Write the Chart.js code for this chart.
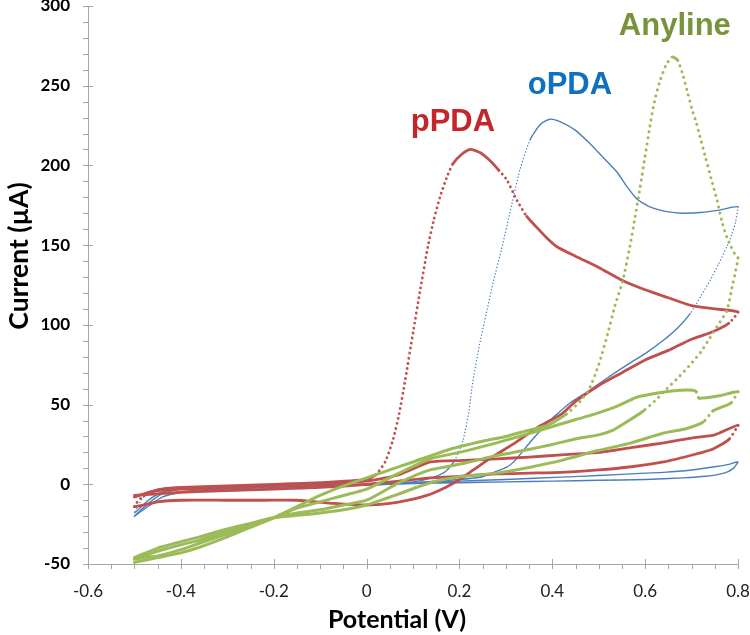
<!DOCTYPE html>
<html>
<head>
<meta charset="utf-8">
<script src="https://cdn.jsdelivr.net/npm/chart.js@4.4.1/dist/chart.umd.min.js"></script>
<style>
    body { margin: 0; background: #fff; }
</style>
</head>
<body>
<canvas id="cv" width="750" height="635"></canvas>
<script>
// [potential (V), current (uA)] in scan order
const ppda = [
    // cycle 1, forward
    [-0.50, -8], [-0.47, -5], [-0.44, -3], [-0.40, -2], [-0.30, -1], [-0.20, 0], [-0.10, 1], [0.00, 3],
    [0.02, 6], [0.04, 14], [0.057, 28], [0.07, 44], [0.083, 65], [0.10, 95], [0.115, 121], [0.132, 149],
    [0.145, 166], [0.158, 180], [0.172, 192], [0.186, 201], [0.205, 207], [0.223, 210], [0.245, 208],
    [0.266, 203], [0.285, 197], [0.302, 191], [0.324, 178], [0.345, 168], [0.367, 161], [0.39, 154],
    [0.41, 149], [0.45, 143], [0.50, 136], [0.55, 128], [0.60, 122], [0.65, 117], [0.70, 112], [0.75, 110],
    [0.80, 108],
    // cycle 1, reverse
    [0.78, 101], [0.74, 95], [0.70, 91], [0.65, 84], [0.60, 78], [0.55, 70], [0.50, 62], [0.45, 52],
    [0.42, 44], [0.37, 36], [0.32, 26], [0.27, 17], [0.23, 9], [0.20, 3], [0.17, -2], [0.13, -7],
    [0.09, -10], [0.05, -12], [0.00, -13], [-0.07, -12], [-0.15, -10], [-0.22, -10], [-0.30, -10],
    [-0.40, -10], [-0.45, -11], [-0.50, -14],
    // cycle 2, forward
    [-0.48, -7], [-0.45, -4], [-0.40, -3], [-0.30, -2], [-0.20, -1], [-0.10, 0], [0.00, 2], [0.07, 6],
    [0.137, 14], [0.21, 15], [0.28, 16], [0.35, 17], [0.42, 18.5], [0.50, 20], [0.57, 23], [0.64, 26],
    [0.70, 29], [0.75, 31], [0.80, 37],
    // cycle 2, reverse
    [0.78, 28], [0.745, 22], [0.71, 19], [0.64, 14], [0.57, 11], [0.50, 9], [0.42, 7.5], [0.35, 7],
    [0.28, 6.5], [0.20, 5], [0.137, 4], [0.07, 2], [0.00, 0], [-0.10, -2], [-0.20, -3], [-0.30, -4],
    [-0.40, -5], [-0.45, -6], [-0.50, -7],
];

const opda = [
    // cycle 1, forward
    [-0.50, -20], [-0.47, -12], [-0.44, -6], [-0.40, -3], [-0.35, -2], [-0.30, -1.5], [-0.20, -1],
    [-0.10, -0.5], [0.00, 0], [0.05, 0.5], [0.10, 1.5], [0.14, 4], [0.17, 8], [0.19, 15], [0.208, 28],
    [0.22, 45], [0.229, 65], [0.245, 90], [0.26, 110], [0.272, 126], [0.291, 148], [0.31, 172],
    [0.33, 197], [0.352, 216], [0.375, 226], [0.395, 229], [0.42, 227], [0.45, 222], [0.48, 214],
    [0.503, 207], [0.539, 196], [0.56, 187], [0.582, 179], [0.61, 174], [0.647, 171], [0.68, 170],
    [0.72, 170.5], [0.76, 172], [0.80, 174],
    // cycle 1, reverse
    [0.795, 165], [0.787, 157], [0.776, 149], [0.758, 138], [0.74, 128], [0.72, 118], [0.697, 107],
    [0.67, 98], [0.638, 90], [0.60, 82], [0.567, 76], [0.52, 67], [0.481, 59], [0.438, 51], [0.41, 44],
    [0.388, 38], [0.36, 29], [0.337, 21], [0.32, 15], [0.302, 10.7], [0.27, 7], [0.244, 4.4], [0.20, 3],
    [0.10, 1], [0.00, -0.5], [-0.10, -1], [-0.20, -1.5], [-0.30, -2], [-0.40, -2.5], [-0.45, -3],
    [-0.48, -8], [-0.50, -18],
    // cycle 2, forward
    [-0.47, -10], [-0.44, -5], [-0.40, -3], [-0.30, -2], [-0.20, -1.5], [-0.10, -1], [0.00, 0], [0.10, 1],
    [0.20, 2], [0.30, 3], [0.42, 4.5], [0.50, 5.5], [0.60, 7], [0.64, 7.5], [0.70, 9], [0.75, 11],
    [0.78, 12.5], [0.80, 14],
    // cycle 2, reverse
    [0.79, 10], [0.77, 7], [0.73, 5], [0.68, 4], [0.60, 3], [0.50, 2.5], [0.40, 2], [0.30, 1.5], [0.20, 1],
    [0.10, 0.5], [0.00, -0.5], [-0.10, -1], [-0.20, -2], [-0.30, -3], [-0.38, -4], [-0.44, -8], [-0.50, -20],
];

const anyline = [
    // cycle 1, forward
    [-0.50, -49], [-0.45, -46], [-0.40, -43], [-0.36, -39.5], [-0.30, -33], [-0.25, -27], [-0.20, -21],
    [-0.15, -14], [-0.10, -7], [-0.05, -1], [0.00, 4], [0.05, 9], [0.10, 14], [0.18, 22], [0.25, 27],
    [0.30, 30], [0.35, 34], [0.39, 37], [0.43, 44], [0.46, 52], [0.48, 60], [0.50, 75], [0.52, 95],
    [0.535, 112], [0.552, 128], [0.567, 149], [0.578, 167], [0.589, 186], [0.60, 206], [0.61, 224],
    [0.62, 240], [0.632, 253], [0.645, 263], [0.658, 268], [0.67, 266], [0.682, 256], [0.692, 245],
    [0.70, 236], [0.71, 227], [0.718, 218], [0.73, 205], [0.742, 192], [0.755, 178], [0.766, 164],
    [0.776, 155], [0.785, 149], [0.792, 145], [0.80, 142],
    // cycle 1, reverse
    [0.795, 134], [0.789, 126], [0.776, 109], [0.755, 99], [0.74, 92], [0.72, 83], [0.697, 75],
    [0.675, 68], [0.647, 60], [0.62, 52], [0.596, 46], [0.565, 40], [0.531, 34], [0.50, 31], [0.46, 29],
    [0.40, 25], [0.352, 22], [0.28, 18], [0.208, 13], [0.137, 9], [0.07, 1], [0.00, -10], [-0.05, -13],
    [-0.10, -16], [-0.15, -18], [-0.20, -21], [-0.25, -25], [-0.30, -29.5], [-0.36, -35], [-0.40, -38],
    [-0.45, -42], [-0.50, -47],
    // cycle 2, forward
    [-0.48, -46], [-0.45, -45], [-0.40, -41], [-0.36, -37], [-0.30, -31], [-0.25, -26], [-0.20, -21],
    [-0.15, -15], [-0.10, -11], [-0.05, -7], [0.00, -3], [0.07, 7], [0.137, 16], [0.20, 20], [0.28, 26],
    [0.352, 32], [0.42, 38], [0.496, 44.5], [0.54, 49], [0.582, 54.6], [0.638, 57.7], [0.675, 59],
    [0.703, 59], [0.71, 58], [0.716, 54], [0.76, 55.5], [0.80, 58],
    // cycle 2, reverse
    [0.785, 51], [0.77, 49], [0.746, 46], [0.725, 39], [0.69, 35], [0.638, 32], [0.57, 26], [0.496, 21],
    [0.42, 15], [0.352, 10.7], [0.28, 7], [0.208, 5], [0.137, 1], [0.07, -6], [0.00, -13], [-0.05, -16],
    [-0.10, -18], [-0.15, -19.5], [-0.20, -21], [-0.25, -24.5], [-0.30, -28], [-0.36, -33], [-0.40, -36],
    [-0.45, -40], [-0.50, -46],
];

const seriesNames = ['pPDA', 'oPDA', 'Anyline'];
// where each name sits, in data units (V, uA)
const nameSpots = [[0.186, 227], [0.438, 250], [0.664, 287]];

const xTitle = 'Potential (V)';
const yTitle = 'Current (µA)';

const xMin = -0.6, xMax = 0.8, xStep = 0.2, xMinorStep = 0.05;
const yMin = -50, yMax = 300, yStep = 50, yMinorStep = 10;

const toXY = pts => pts.map(([x, y]) => ({ x, y }));

// steep stretches of a scan came out as loose dots in the original
const dotted = (dash, limit) => ctx =>
    Math.abs(ctx.p1.y - ctx.p0.y) > limit * Math.abs(ctx.p1.x - ctx.p0.x) ? dash : undefined;

const axisColor = '#a6a6a6';

const tickMarks = {
    id: 'tickMarks',
    afterDraw(chart) {
        const { ctx, scales: { x, y } } = chart;
        const x0 = x.getPixelForValue(xMin), y0 = y.getPixelForValue(yMin);
        ctx.save();
        ctx.strokeStyle = axisColor;
        ctx.lineWidth = 1;
        ctx.beginPath();

        const nx = Math.round((xMax - xMin) / xMinorStep);
        for (let k = 0; k <= nx; k++) {
            const px = Math.round(x.getPixelForValue(xMin + k * xMinorStep)) + 0.5;
            const major = k % Math.round(xStep / xMinorStep) === 0;
            ctx.moveTo(px, y0 + (major ? -5 : 0));
            ctx.lineTo(px, y0 + 5);
        }

        const ny = Math.round((yMax - yMin) / yMinorStep);
        for (let k = 0; k <= ny; k++) {
            const py = Math.round(y.getPixelForValue(yMin + k * yMinorStep)) + 0.5;
            const major = k % Math.round(yStep / yMinorStep) === 0;
            ctx.moveTo(x0 - 5, py);
            ctx.lineTo(x0 + (major ? 5 : 0), py);
        }

        ctx.stroke();
        ctx.restore();
    },
};

// axis titles sit a little off the plot centre in the original, so they are drawn here
const axisTitles = {
    id: 'axisTitles',
    afterDraw(chart) {
        const { ctx } = chart;
        ctx.save();
        ctx.fillStyle = '#000';
        ctx.textAlign = 'center';
        ctx.textBaseline = 'middle';
        ctx.font = 'bold 25px Lato';
        ctx.fillText(xTitle, 397, 620);
        ctx.translate(19, 256);
        ctx.rotate(-Math.PI / 2);
        ctx.font = 'bold 26.5px Lato';
        ctx.fillText(yTitle, 0, 0);
        ctx.restore();
    },
};

const seriesLabels = {
    id: 'seriesLabels',
    afterDatasetsDraw(chart) {
        const { ctx, scales: { x, y } } = chart;
        ctx.save();
        ctx.font = 'bold 31px "Liberation Sans", Arial, sans-serif';
        ctx.textAlign = 'center';
        ctx.textBaseline = 'middle';
        chart.data.datasets.forEach(ds => {
            const [v, i] = ds.nameAt;
            ctx.fillStyle = ds.nameColor;
            ctx.fillText(ds.label, x.getPixelForValue(v), y.getPixelForValue(i));
        });
        ctx.restore();
    },
};

const makeSet = (idx, pts, color, nameColor, width, dash, limit) => ({
    label: seriesNames[idx],
    nameAt: nameSpots[idx],
    nameColor,
    data: toXY(pts),
    showLine: true,
    borderColor: color,
    backgroundColor: color,
    borderWidth: width,
    borderCapStyle: 'round',
    borderJoinStyle: 'round',
    pointRadius: 0,
    tension: 0.2,
    clip: false,
    segment: { borderDash: dotted(dash, limit) },
});

new Chart('cv', {
    type: 'scatter',

    data: {
        datasets: [
            makeSet(2, anyline, '#9bbb59', '#77933c', 3, [0.1, 6], 0.85),
            makeSet(0, ppda, '#c0504d', '#c3272c', 2.8, [0.1, 5], 1.1),
            makeSet(1, opda, '#4a7ebb', '#0f6fc0', 1.4, [0.1, 3.2], 1.6),
        ],
    },

    options: {
        responsive: false,
        animation: false,
        layout: {
            padding: { top: 6, right: 12, left: 0, bottom: 0 },
        },

        plugins: {
            legend: { display: false },
            tooltip: { enabled: false },
        },

        scales: {
            x: {
                type: 'linear',
                min: xMin,
                max: xMax,
                grid: { display: false, drawTicks: false },
                border: { display: true, color: axisColor },
                ticks: {
                    stepSize: xStep,
                    padding: 17,
                    color: '#222',
                    font: { family: 'Lato', size: 17 },
                    callback: v => String(Math.round(v * 10) / 10),
                },
                afterFit: s => {
                    s.height = 71;
                    s.paddingLeft = 0;
                    s.paddingRight = 0;
                },
            },

            y: {
                type: 'linear',
                min: yMin,
                max: yMax,
                grid: { display: false, drawTicks: false },
                border: { display: true, color: axisColor },
                ticks: {
                    stepSize: yStep,
                    padding: 18,
                    color: '#000',
                    font: { family: 'Lato', size: 17, weight: 'bold' },
                },
                afterFit: s => {
                    s.width = 88;
                    s.paddingTop = 0;
                    s.paddingBottom = 0;
                },
            },
        },
    },

    plugins: [tickMarks, axisTitles, seriesLabels],
});
</script>
</body>
</html>
